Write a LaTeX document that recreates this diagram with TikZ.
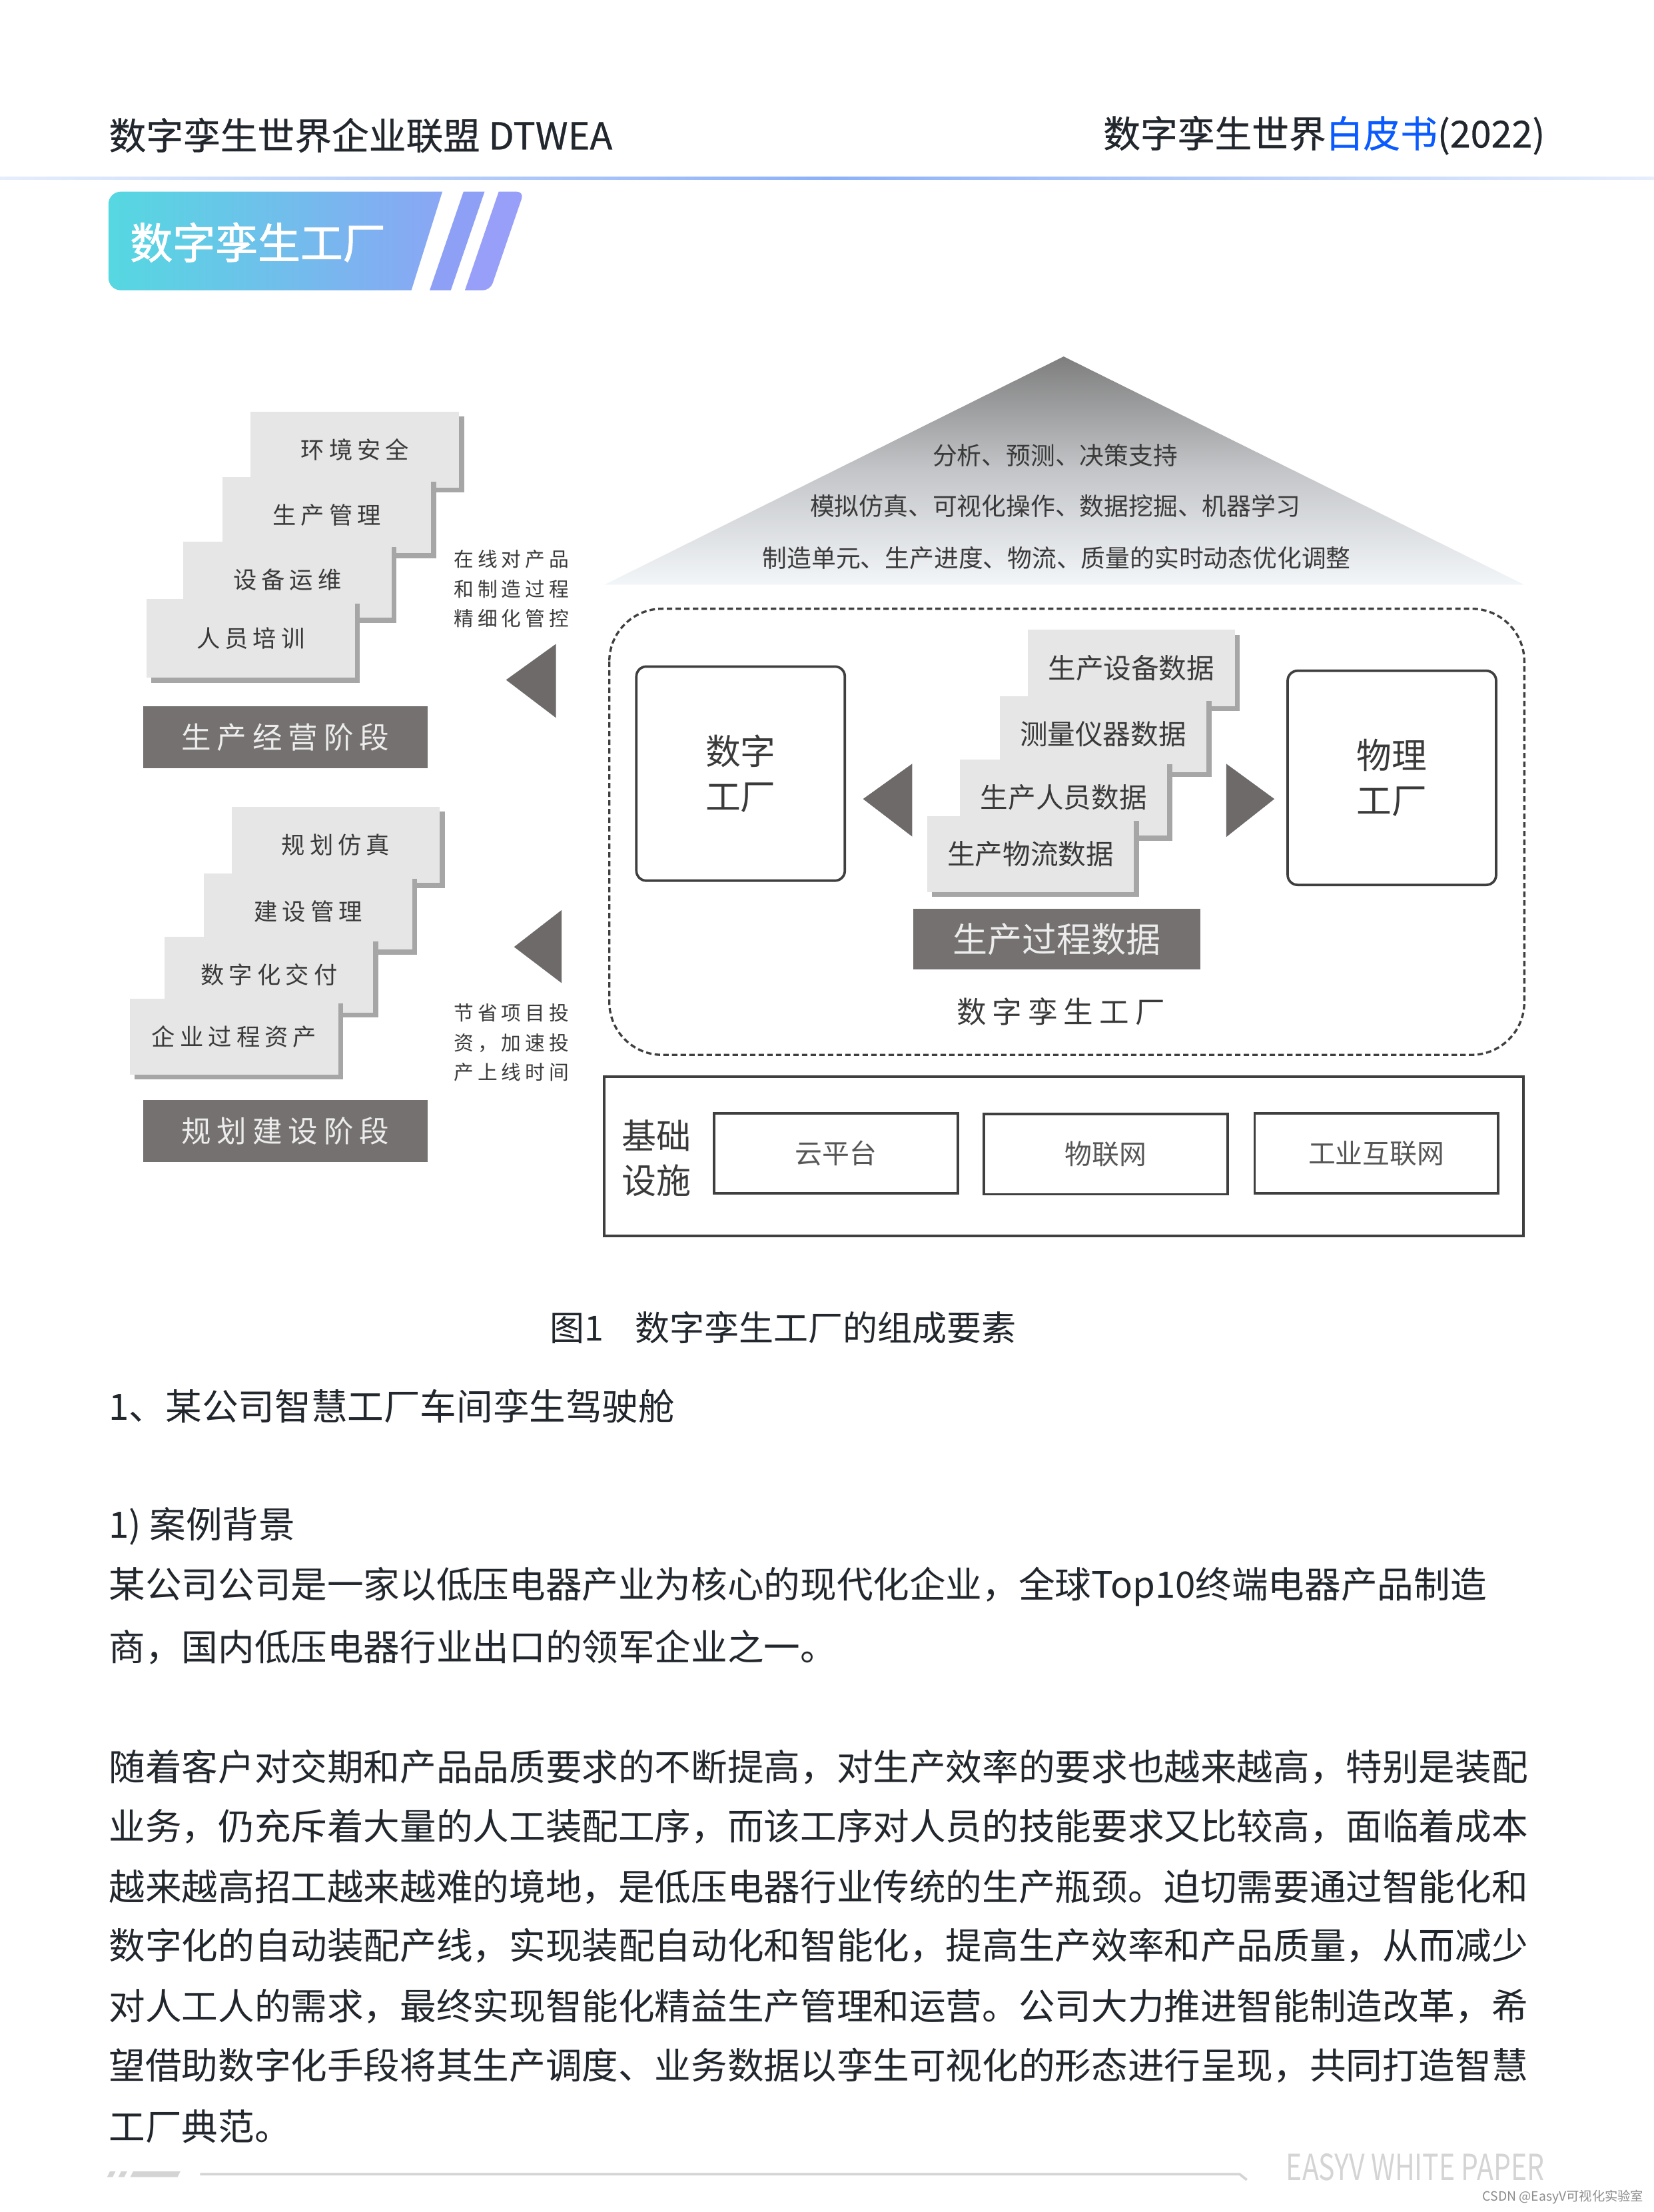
\documentclass[tikz,border=0pt]{standalone}
\usepackage{fontspec}
\usepackage{xcolor}
\usepackage{graphicx}
\setmainfont{Noto Sans CJK SC}
\newfontfamily\cjk{Noto Sans CJK SC}
\newfontfamily\cjkwide[LetterSpace=20]{Noto Sans CJK SC}
\newfontfamily\cjkbold[FakeBold=1.5]{Noto Sans CJK SC}
\newfontfamily\cjkmedium[FakeBold=0.5]{Noto Sans CJK SC}
\usetikzlibrary{positioning,shadows}

\definecolor{inkgray}{HTML}{22272E}
\definecolor{paperblue}{HTML}{0A5BFF}
\definecolor{rulelight}{HTML}{E6EEFC}
\definecolor{rulemid}{HTML}{8CB1FA}
\definecolor{badgecyan}{HTML}{55D8E1}
\definecolor{badgeblue}{HTML}{8AA6F5}
\definecolor{stripeone}{HTML}{8E9FF6}
\definecolor{stripetwo}{HTML}{989FF9}
\definecolor{pyrtop}{HTML}{7E7E7E}
\definecolor{pyrmid}{HTML}{C3C5C8}
\definecolor{pyrbottom}{HTML}{F3F6F9}
\definecolor{cardgray}{HTML}{E6E6E6}
\definecolor{bargray}{HTML}{767171}
\definecolor{bartext}{HTML}{ECECEC}
\definecolor{arrowgray}{HTML}{6E6A6A}
\definecolor{diagtext}{HTML}{3A3A3A}
\definecolor{linegray}{HTML}{3F3F3F}
\definecolor{footgray}{HTML}{D4D4D4}

\tikzset{
  card/.style={fill=cardgray, inner sep=0pt, minimum width=2.96cm, minimum height=1.08cm, text=diagtext,
    drop shadow={shadow xshift=2pt, shadow yshift=-2pt, fill=black!35, opacity=1}},
  stepcard/.style={card, font=\cjkwide\fontsize{9.5}{11}\selectfont},
  datacard/.style={card, minimum width=2.94cm, font=\cjk\fontsize{11.2}{13}\selectfont},
  stagebar/.style={fill=bargray, text=bartext, inner sep=0pt, minimum width=4.04cm, minimum height=0.88cm,
    font=\cjkwide\fontsize{12}{14}\selectfont},
  factorybox/.style={draw=linegray, line width=1pt, rounded corners=4pt, minimum width=2.96cm, minimum height=3.04cm,
    align=center, text=diagtext, font=\cjk\fontsize{14.2}{18.2}\selectfont},
  infrabox/.style={draw=linegray, line width=1pt, minimum width=3.46cm, minimum height=1.14cm, text=diagtext!85,
    font=\cjk\fontsize{11}{13}\selectfont},
  note/.style={align=left, inner sep=0pt, text=diagtext, font=\cjkwide\fontsize{8}{12}\selectfont},
  toptext/.style={text=diagtext, font=\cjk\fontsize{9.9}{12}\selectfont},
  headline/.style={inner sep=0pt, text=inkgray, font=\cjkmedium\fontsize{15}{17}\selectfont},
  bodyline/.style={anchor=west, inner sep=0pt, text=inkgray, font=\cjk\fontsize{14.7}{18}\selectfont},
}

\begin{document}
\begin{tikzpicture}[x=0.02cm, y=-0.02cm]
    \fill [white] (0,0) rectangle (1174,1569);

    % page header
    \node [headline, anchor=west] (alliance) at (77,96) {数字孪生世界企业联盟 DTWEA};
    \node [headline, anchor=east] (papertitle) at (1097,96) {数字孪生世界\textcolor{paperblue}{白皮书}(2022)};
    \shade [left color=rulelight, right color=rulelight, middle color=rulemid] (0,125.6) rectangle (1174,127.6);

    % section badge
    \shade [left color=badgecyan, right color=badgeblue] (314,136) [rounded corners=5pt] -- (77,136) -- (77,206) [sharp corners] -- (292,206) -- cycle;
    \fill [stripeone] (329,136) -- (344,136) -- (320,206) -- (305,206) -- cycle;
    \fill [stripetwo] (354,136) [rounded corners=3pt] -- (372,136) -- (348,206) [sharp corners] -- (330,206) -- cycle;
    \node [anchor=west, inner sep=0pt, text=white, font=\cjkbold\fontsize{17.2}{20}\selectfont] (badge) at (92,172) {数字孪生工厂};

    % roof
    \shade [top color=pyrtop, bottom color=pyrbottom, middle color=pyrmid] (755,253) -- (1082,415) -- (429,415) -- cycle;
    \node [toptext] (decide) at (749,323) {分析、预测、决策支持};
    \node [toptext] (simulate) at (749,359) {模拟仿真、可视化操作、数据挖掘、机器学习};
    \node [toptext] (optimize) at (750,396) {制造单元、生产进度、物流、质量的实时动态优化调整};

    % digital twin factory
    \draw [linegray, line width=0.9pt, dash pattern=on 2.2pt off 1.3pt, rounded corners=0.75cm] (432.5,432) rectangle (1082,748.6);
    \node [factorybox] (digital) at (525.7,549) {数字\\工厂};
    \node [factorybox] (physical) at (988,552) {物理\\工厂};
    \node [datacard] (equip) at (803,474) {生产设备数据};
    \node [datacard] (meter) at (783,521) {测量仪器数据};
    \node [datacard] (staff) at (755,566) {生产人员数据};
    \node [datacard] (logistic) at (731.5,606) {生产物流数据};
    \fill [arrowgray] (612.6,567) -- (647.5,542) -- (647.5,593.7) -- cycle;
    \fill [arrowgray] (904.6,567) -- (870.4,542) -- (870.4,594) -- cycle;
    \node [stagebar, minimum width=4.08cm, minimum height=0.86cm, font=\cjk\fontsize{14}{16}\selectfont] (process) at (750,666.5) {生产过程数据};
    \node [text=diagtext, font=\cjkwide\fontsize{12}{14}\selectfont] (twinlabel) at (753,718) {数字孪生工厂};

    % infrastructure
    \draw [linegray, line width=1pt] (428.8,764) rectangle (1081.4,877);
    \node [align=center, text=diagtext, font=\cjk\fontsize{14}{18.2}\selectfont] (base) at (466,822) {基础\\设施};
    \node [infrabox] (cloud) at (593.3,818.5) {云平台};
    \node [infrabox] (iot) at (785,819) {物联网};
    \node [infrabox] (iiot) at (977,818.5) {工业互联网};

    % operation stage
    \node [stepcard] (envsafe) at (252,319) {环境安全};
    \node [stepcard] (prodmgmt) at (232,365.5) {生产管理};
    \node [stepcard] (maint) at (204,411.5) {设备运维};
    \node [stepcard, minimum height=1.12cm] (training) at (178,453) {人员培训};
    \node [stagebar] (opsstage) at (202.6,523) {生产经营阶段};
    \node [note] (opsnote) at (363,418) {在线对产品\\和制造过程\\精细化管控};
    \fill [arrowgray] (359.2,482.5) -- (394.6,457) -- (394.6,509.4) -- cycle;

    % planning stage
    \node [stepcard] (plansim) at (238.3,599.6) {规划仿真};
    \node [stepcard] (buildmgmt) at (218.7,647) {建设管理};
    \node [stepcard] (delivery) at (191,691.7) {数字化交付};
    \node [stepcard] (assets) at (166.2,735.6) {企业过程资产};
    \node [stagebar] (planstage) at (202.6,802.5) {规划建设阶段};
    \fill [arrowgray] (364.9,672) -- (398.7,645.8) -- (398.7,697.7) -- cycle;
    \node [note] (plannote) at (363,740) {节省项目投\\资，加速投\\产上线时间};

    % caption and text
    \node [text=inkgray, font=\cjk\fontsize{14}{16}\selectfont] (caption) at (556,942) {图1\hspace{0.9em}数字孪生工厂的组成要素};
    \node [bodyline] (case) at (77,998) {1、某公司智慧工厂车间孪生驾驶舱};
    \node [bodyline] (background) at (77,1083) {1) 案例背景};
    \foreach \y/\txt in {1126/某公司公司是一家以低压电器产业为核心的现代化企业，全球Top10终端电器产品制造,
        1169/商，国内低压电器行业出口的领军企业之一。,
        1254/随着客户对交期和产品品质要求的不断提高，对生产效率的要求也越来越高，特别是装配,
        1296/业务，仍充斥着大量的人工装配工序，而该工序对人员的技能要求又比较高，面临着成本,
        1339/越来越高招工越来越难的境地，是低压电器行业传统的生产瓶颈。迫切需要通过智能化和,
        1381/数字化的自动装配产线，实现装配自动化和智能化，提高生产效率和产品质量，从而减少,
        1424/对人工人的需求，最终实现智能化精益生产管理和运营。公司大力推进智能制造改革，希,
        1466/望借助数字化手段将其生产调度、业务数据以孪生可视化的形态进行呈现，共同打造智慧,
        1509/工厂典范。}
        \node [bodyline] (line\y) at (77,\y) {\txt};

    % footer
    \foreach \x/\w in {76/4, 84/4.2, 92.5/33.5}
        \fill [footgray] (\x,1545) -- ++(2,-4) -- ++(\w,0) -- ++(-2,4) -- cycle;
    \draw [footgray, line width=1pt] (142,1543) -- (880,1543) -- (885,1547);
    \node [text=footgray, font=\cjk\fontsize{14.5}{16}\selectfont] (brand) at (1004.6,1538) {\scalebox{0.76}[1]{EASYV WHITE PAPER}};
    \node [text=black!45, font=\cjk\fontsize{5.2}{6}\selectfont] (csdn) at (1109.5,1559) {CSDN @EasyV可视化实验室};
\end{tikzpicture}
\end{document}
